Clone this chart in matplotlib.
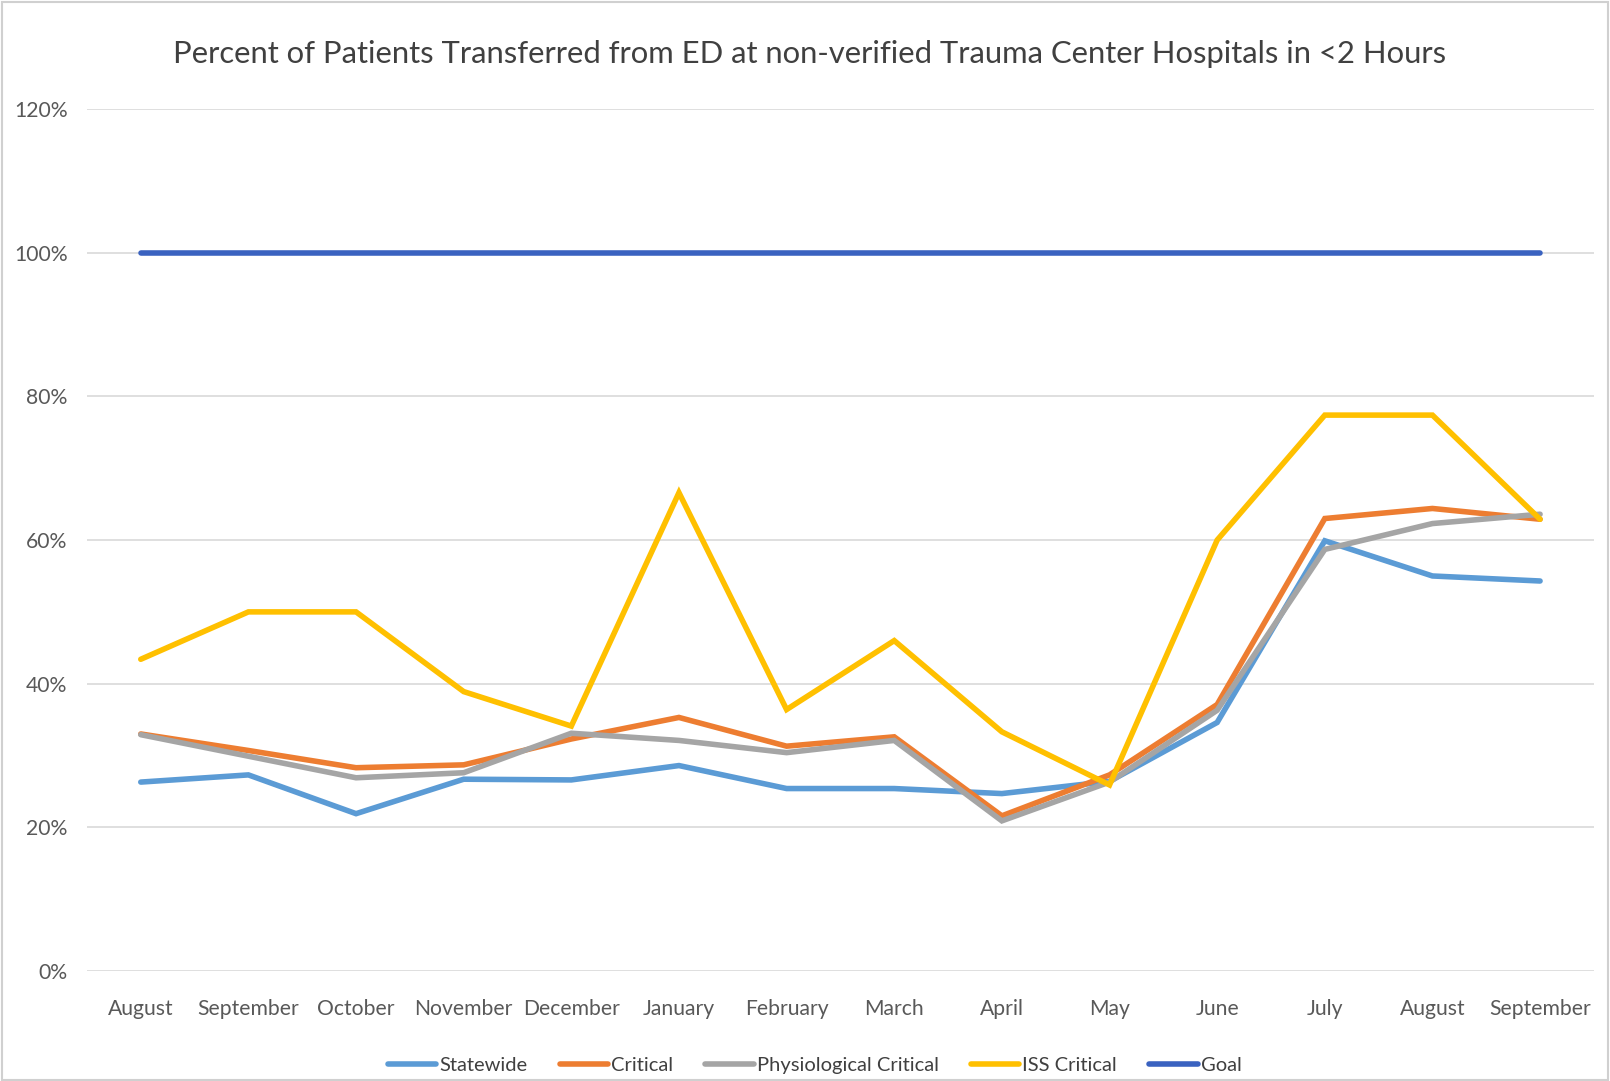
import matplotlib
matplotlib.use("Agg")
import matplotlib.pyplot as plt
from matplotlib.patches import Rectangle
from matplotlib.ticker import FuncFormatter

plt.rcParams['font.family'] = ['Lato', 'DejaVu Sans']

months = ["August", "September", "October", "November", "December", "January",
          "February", "March", "April", "May", "June", "July", "August", "September"]

statewide = [26.3, 27.3, 21.9, 26.7, 26.6, 28.6, 25.4, 25.4, 24.7, 26.4, 34.6, 59.9, 55.0, 54.3]
critical = [33.0, 30.7, 28.3, 28.7, 32.3, 35.3, 31.3, 32.6, 21.6, 27.3, 37.1, 63.0, 64.4, 62.9]
physiological = [32.9, 29.9, 26.9, 27.6, 33.1, 32.1, 30.4, 32.1, 20.9, 26.3, 36.3, 58.7, 62.3, 63.6]
iss_critical = [43.4, 50.0, 50.0, 38.9, 34.1, 66.6, 36.4, 46.0, 33.3, 25.9, 60.0, 77.4, 77.4, 62.9]
goal = [100] * 14

series = [
    ("Statewide", statewide, "#5B9BD5"),
    ("Critical", critical, "#ED7D31"),
    ("Physiological Critical", physiological, "#A5A5A5"),
    ("ISS Critical", iss_critical, "#FFC000"),
    ("Goal", goal, "#3A62C0"),
]

fig = plt.figure(figsize=(16.10, 10.81), dpi=100)
ax = fig.add_axes([0.054, 0.1018, 0.936, 0.7972])

x = list(range(len(months)))
for name, vals, col in series:
    ax.plot(x, [v / 100 for v in vals], color=col, lw=4.0, label=name,
            solid_capstyle='round', solid_joinstyle='miter')

ax.set_xlim(-0.5, len(months) - 0.5)
ax.set_ylim(0, 1.2)
ax.set_yticks([0, 0.2, 0.4, 0.6, 0.8, 1.0, 1.2])
ax.yaxis.set_major_formatter(FuncFormatter(lambda v, p: f"{v*100:.0f}%"))
ax.set_xticks(x)
ax.set_xticklabels(months)
ax.grid(axis='y', color='#D9D9D9', lw=1.2)
ax.set_axisbelow(True)
for s in ax.spines.values():
    s.set_visible(False)
ax.tick_params(axis='both', length=0, labelsize=15.2, colors='#595959')
ax.tick_params(axis='x', pad=20)
ax.tick_params(axis='y', pad=14)

fig.text(0.503, 0.950, "Percent of Patients Transferred from ED at non-verified Trauma Center Hospitals in <2 Hours",
         ha='center', va='center', fontsize=22.3, color='#404040')

leg = fig.legend(loc='center', bbox_to_anchor=(0.506, 0.0145), ncol=5, frameon=False,
                 fontsize=14.5, handlelength=2.4, columnspacing=1.6, handletextpad=0.15,
                 labelcolor='#404040')

fig.patches.append(Rectangle((0.001, 0.001), 0.998, 0.997, transform=fig.transFigure,
                             fill=False, edgecolor='#D0D0D0', lw=1.5))

fig.savefig("out.png", dpi=100)
